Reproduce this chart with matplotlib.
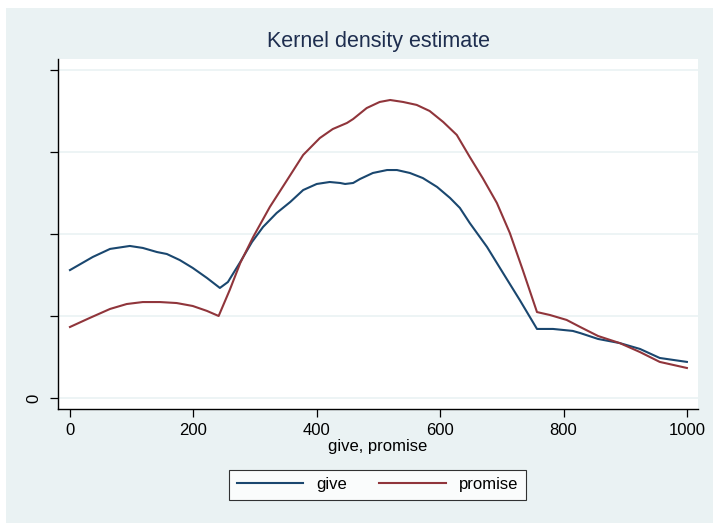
import numpy as np
import matplotlib.pyplot as plt
from matplotlib.patches import Rectangle

# kernel density estimates of give and promise (0..1000)
give_x = [0, 37, 65, 97, 118, 141, 157, 178, 199, 222, 243, 256, 276, 295, 313,
          335, 357, 378, 400, 421, 438, 446, 459, 470, 491, 514, 530, 551, 572,
          595, 616, 632, 648, 676, 702, 729, 757, 783, 815, 827, 856, 891, 924,
          956, 1000]
give_y = [0.000780, 0.000860, 0.000909, 0.000927, 0.000915, 0.000890, 0.000878,
          0.000841, 0.000793, 0.000732, 0.000671, 0.000707, 0.000829, 0.000951,
          0.001043, 0.001128, 0.001195, 0.001268, 0.001305, 0.001317, 0.001311,
          0.001305, 0.001311, 0.001335, 0.001372, 0.001390, 0.001390, 0.001372,
          0.001341, 0.001287, 0.001220, 0.001159, 0.001067, 0.000921, 0.000762,
          0.000598, 0.000421, 0.000421, 0.000409, 0.000396, 0.000360, 0.000335,
          0.000299, 0.000244, 0.000220]

promise_x = [0, 32, 65, 92, 118, 146, 173, 199, 222, 241, 259, 276, 297, 324,
             352, 378, 405, 426, 449, 459, 481, 502, 519, 540, 562, 583, 605,
             627, 648, 669, 692, 713, 734, 757, 778, 805, 827, 856, 891, 924,
             956, 1000]
promise_y = [0.000433, 0.000488, 0.000543, 0.000573, 0.000585, 0.000585,
             0.000579, 0.000561, 0.000531, 0.000500, 0.000659, 0.000823,
             0.000982, 0.001165, 0.001329, 0.001482, 0.001585, 0.001640,
             0.001677, 0.001701, 0.001768, 0.001805, 0.001817, 0.001805,
             0.001787, 0.001750, 0.001683, 0.001604, 0.001470, 0.001341,
             0.001189, 0.001006, 0.000780, 0.000524, 0.000506, 0.000476,
             0.000433, 0.000378, 0.000335, 0.000280, 0.000220, 0.000183]

x_ticks = [0, 200, 400, 600, 800, 1000]
y_ticks = [0, 0.0005, 0.001, 0.0015, 0.002]
y_labels = ["0", "", "", "", ""]

bg = "#EAF2F3"
navy = "#1A476F"
maroon = "#90353B"

plt.rcParams['font.family'] = ['Liberation Sans', 'DejaVu Sans']

fig = plt.figure(figsize=(7.13, 5.23), dpi=100)
fig.patch.set_facecolor("white")
fig.patches.append(Rectangle((6 / 713, 0), 1, 1 - 8 / 523, transform=fig.transFigure,
                             facecolor=bg, edgecolor="none", zorder=-10))

ax = fig.add_axes([58 / 713, 114 / 523, 640 / 713, 350 / 523])
ax.set_facecolor("white")
ax.plot(give_x, give_y, color=navy, lw=1.5, label="give")
ax.plot(promise_x, promise_y, color=maroon, lw=1.5, label="promise")

ax.set_xlim(-19.4, 1018)
ax.set_ylim(-0.0000671, 0.002067)
ax.set_xticks(x_ticks)
ax.set_yticks(y_ticks)
ax.set_yticklabels(y_labels, rotation=90, va="center")
ax.grid(axis="y", color=bg, lw=1.2)
ax.set_axisbelow(True)

for s in ["top", "right"]:
    ax.spines[s].set_visible(False)
for s in ["left", "bottom"]:
    ax.spines[s].set_color("black")
    ax.spines[s].set_linewidth(1.0)
ax.tick_params(axis="both", length=6, width=0.9, labelsize=12, colors="black", pad=4)
ax.tick_params(axis="y", pad=6)

ax.set_xlabel("give, promise", fontsize=12, labelpad=1)
fig.text(378 / 713, 1 - 42 / 523, "Kernel density estimate", ha="center", va="center",
         fontsize=15.5, color="#1E2E4F")

leg = fig.legend(loc="center", bbox_to_anchor=(377.5 / 713, 1 - 484.5 / 523), ncol=2,
                 frameon=True, fontsize=12, handlelength=4.0, columnspacing=1.9,
                 borderpad=0.45, handletextpad=0.8, fancybox=False)
leg.get_frame().set_edgecolor("black")
leg.get_frame().set_linewidth(0.8)
leg.get_frame().set_facecolor("white")

fig.savefig("out.png", dpi=100, facecolor=fig.get_facecolor())
